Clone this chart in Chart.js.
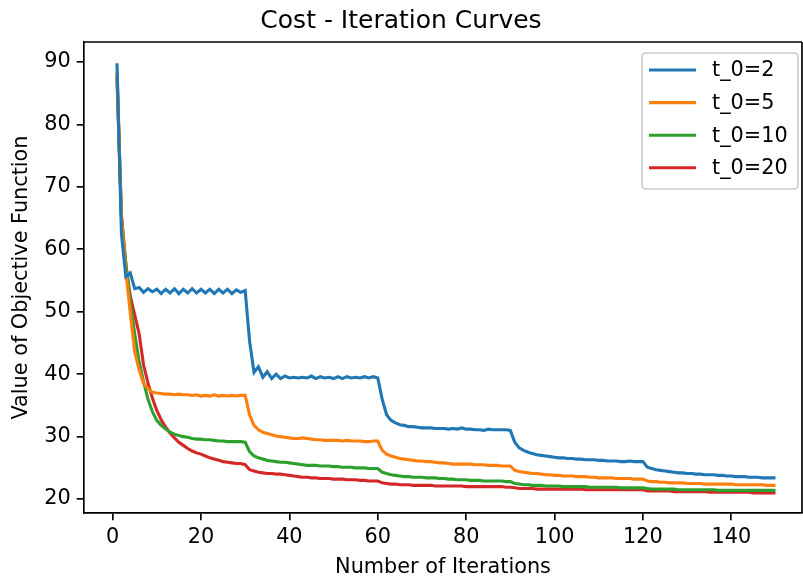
<!DOCTYPE html>
<html>
<head>
<meta charset="utf-8">
<script src="https://cdn.jsdelivr.net/npm/chart.js@4.4.1/dist/chart.umd.min.js"></script>
<style>
  html, body { margin: 0; padding: 0; background: #fff; }
  #wrap { width: 803px; height: 581px; }
</style>
</head>
<body>
<div id="wrap"><canvas id="myChart" width="803" height="581"></canvas></div>
<script>
// iteration numbers 1..150
var iterations = Array.from({length: 150}, function(_, i){ return i + 1; });

var seriesNames = ['t_0=2', 't_0=5', 't_0=10', 't_0=20'];
var seriesColors = ['#1f77b4', '#ff7f0e', '#2ca02c', '#d62728'];

var cost_t2 = [
  89.8, 62.5, 55.6, 56.2, 53.7, 53.9, 53.1, 53.7, 53.2, 53.6,
  52.9, 53.6, 53.0, 53.7, 52.9, 53.6, 53.0, 53.7, 53.0, 53.6,
  53.0, 53.6, 52.9, 53.6, 53.0, 53.6, 52.9, 53.5, 53.1, 53.4,
  45.3, 40.3, 41.2, 39.5, 40.4, 39.3, 40.0, 39.3, 39.7, 39.4,
  39.5, 39.4, 39.5, 39.4, 39.7, 39.3, 39.6, 39.4, 39.5, 39.3,
  39.6, 39.3, 39.6, 39.4, 39.5, 39.4, 39.6, 39.4, 39.6, 39.4,
  36.0, 33.5, 32.6, 32.2, 31.9, 31.8, 31.6, 31.6, 31.5, 31.4,
  31.4, 31.4, 31.3, 31.3, 31.3, 31.2, 31.3, 31.2, 31.4, 31.2,
  31.2, 31.1, 31.1, 31.0, 31.2, 31.1, 31.1, 31.1, 31.1, 31.0,
  29.1, 28.2, 27.8, 27.5, 27.3, 27.1, 27.0, 26.9, 26.8, 26.7,
  26.6, 26.6, 26.5, 26.5, 26.4, 26.4, 26.3, 26.3, 26.3, 26.2,
  26.2, 26.1, 26.1, 26.1, 26.0, 26.0, 26.1, 26.0, 26.0, 26.0,
  25.1, 24.9, 24.7, 24.6, 24.5, 24.4, 24.3, 24.2, 24.2, 24.1,
  24.1, 24.0, 24.0, 23.9, 23.9, 23.9, 23.8, 23.8, 23.7, 23.7,
  23.6, 23.6, 23.6, 23.5, 23.5, 23.5, 23.4, 23.4, 23.4, 23.4
];

var cost_t5 = [
  88.5, 65.0, 56.5, 49.8, 43.6, 40.7, 38.5, 37.7, 37.1, 37.0,
  36.9, 36.8, 36.8, 36.7, 36.8, 36.7, 36.7, 36.6, 36.7, 36.5,
  36.6, 36.5, 36.7, 36.5, 36.6, 36.5, 36.6, 36.5, 36.6, 36.6,
  33.5, 31.8, 31.1, 30.7, 30.5, 30.3, 30.1, 30.0, 29.9, 29.8,
  29.7, 29.7, 29.8, 29.7, 29.6, 29.5, 29.5, 29.4, 29.4, 29.4,
  29.4, 29.3, 29.4, 29.3, 29.3, 29.3, 29.2, 29.2, 29.3, 29.3,
  27.8, 27.2, 26.9, 26.7, 26.5, 26.4, 26.3, 26.2, 26.1, 26.1,
  26.0, 26.0, 25.9, 25.8, 25.8, 25.7, 25.6, 25.6, 25.6, 25.6,
  25.6, 25.5, 25.5, 25.5, 25.4, 25.4, 25.4, 25.3, 25.3, 25.3,
  24.6, 24.4, 24.3, 24.2, 24.1, 24.1, 24.0, 23.9, 23.9, 23.8,
  23.8, 23.7, 23.7, 23.7, 23.6, 23.6, 23.6, 23.5, 23.5, 23.4,
  23.4, 23.4, 23.4, 23.3, 23.3, 23.3, 23.3, 23.2, 23.2, 23.2,
  22.9, 22.8, 22.8, 22.7, 22.7, 22.6, 22.6, 22.6, 22.6, 22.5,
  22.5, 22.5, 22.5, 22.4, 22.4, 22.4, 22.4, 22.4, 22.4, 22.4,
  22.3, 22.3, 22.3, 22.3, 22.3, 22.3, 22.3, 22.2, 22.2, 22.2
];

var cost_t10 = [
  87.8, 65.2, 57.8, 51.5, 46.5, 42.0, 38.8, 36.0, 34.0, 32.6,
  31.8, 31.2, 30.7, 30.4, 30.2, 30.0, 29.9, 29.7, 29.6, 29.6,
  29.5, 29.5, 29.4, 29.3, 29.3, 29.2, 29.2, 29.2, 29.2, 29.1,
  27.6, 26.9, 26.6, 26.4, 26.2, 26.1, 26.0, 25.9, 25.9, 25.8,
  25.7, 25.6, 25.5, 25.4, 25.4, 25.4, 25.3, 25.3, 25.3, 25.2,
  25.2, 25.1, 25.1, 25.1, 25.0, 25.0, 25.0, 24.9, 24.9, 24.9,
  24.3, 24.1, 23.9, 23.8, 23.7, 23.6, 23.6, 23.5, 23.5, 23.5,
  23.4, 23.4, 23.4, 23.3, 23.3, 23.2, 23.2, 23.1, 23.1, 23.1,
  23.0, 23.0, 23.0, 22.9, 22.9, 22.9, 22.9, 22.9, 22.8, 22.8,
  22.5, 22.4, 22.3, 22.3, 22.2, 22.2, 22.2, 22.1, 22.1, 22.1,
  22.1, 22.0, 22.0, 22.0, 22.0, 22.0, 22.0, 21.9, 21.9, 21.9,
  21.9, 21.9, 21.9, 21.9, 21.8, 21.8, 21.8, 21.8, 21.8, 21.8,
  21.7, 21.6, 21.6, 21.6, 21.6, 21.6, 21.6, 21.5, 21.5, 21.5,
  21.5, 21.5, 21.5, 21.5, 21.5, 21.5, 21.4, 21.4, 21.4, 21.4,
  21.4, 21.4, 21.4, 21.4, 21.4, 21.4, 21.4, 21.4, 21.4, 21.4
];

var cost_t20 = [
  87.3, 65.5, 57.5, 52.5, 49.5, 46.5, 41.5, 38.6, 36.2, 34.2,
  32.7, 31.5, 30.6, 29.8, 29.1, 28.6, 28.1, 27.7, 27.4, 27.2,
  26.9, 26.6, 26.4, 26.2, 26.0, 25.9, 25.8, 25.7, 25.7, 25.5,
  24.7, 24.5, 24.3, 24.2, 24.1, 24.1, 24.0, 24.0, 23.9, 23.8,
  23.7, 23.6, 23.5, 23.5, 23.4, 23.4, 23.3, 23.3, 23.3, 23.2,
  23.2, 23.2, 23.1, 23.1, 23.1, 23.0, 23.0, 22.9, 22.9, 22.9,
  22.6, 22.5, 22.4, 22.4, 22.3, 22.3, 22.3, 22.2, 22.2, 22.2,
  22.2, 22.2, 22.1, 22.1, 22.1, 22.1, 22.1, 22.1, 22.1, 22.0,
  22.0, 22.0, 22.0, 22.0, 22.0, 22.0, 22.0, 22.0, 21.9, 21.9,
  21.8, 21.7, 21.7, 21.7, 21.7, 21.6, 21.6, 21.6, 21.6, 21.6,
  21.6, 21.6, 21.6, 21.6, 21.6, 21.6, 21.5, 21.5, 21.5, 21.5,
  21.5, 21.5, 21.5, 21.5, 21.5, 21.5, 21.5, 21.5, 21.5, 21.5,
  21.3, 21.3, 21.3, 21.3, 21.3, 21.3, 21.2, 21.2, 21.2, 21.2,
  21.2, 21.2, 21.2, 21.2, 21.1, 21.1, 21.1, 21.1, 21.1, 21.1,
  21.1, 21.1, 21.1, 21.1, 21.0, 21.0, 21.0, 21.0, 21.0, 21.0
];

var xTicks = [0, 20, 40, 60, 80, 100, 120, 140];
var yTicks = [20, 30, 40, 50, 60, 70, 80, 90];

var FONT = 'DejaVu Sans';
var allSeries = [cost_t2, cost_t5, cost_t10, cost_t20];

var datasets = allSeries.map(function(vals, k){
  return {
    label: seriesNames[k],
    data: iterations.map(function(it, i){ return {x: it, y: vals[i]}; }),
    borderColor: seriesColors[k],
    backgroundColor: seriesColors[k],
    borderWidth: 3.1,
    pointRadius: 0,
    tension: 0,
    fill: false
  };
});

// top/right spines + matplotlib style legend
var framePlugin = {
  id: 'frame',
  afterDraw: function(chart){
    var c = chart.ctx, a = chart.chartArea;
    c.save();
    c.strokeStyle = '#000';
    c.lineWidth = 1.67;
    c.beginPath();
    c.moveTo(a.left, a.top); c.lineTo(a.right, a.top);
    c.moveTo(a.right, a.top); c.lineTo(a.right, a.bottom);
    c.stroke();

    // legend box
    var bx = 642, by = 53, bw = 156, bh = 136, r = 4;
    c.beginPath();
    c.moveTo(bx + r, by);
    c.arcTo(bx + bw, by, bx + bw, by + bh, r);
    c.arcTo(bx + bw, by + bh, bx, by + bh, r);
    c.arcTo(bx, by + bh, bx, by, r);
    c.arcTo(bx, by, bx + bw, by, r);
    c.closePath();
    c.fillStyle = 'rgba(255,255,255,0.8)';
    c.fill();
    c.strokeStyle = '#cccccc';
    c.lineWidth = 1.67;
    c.stroke();

    c.font = '20.8px "' + FONT + '"';
    c.textBaseline = 'middle';
    c.textAlign = 'left';
    chart.data.datasets.forEach(function(ds, k){
      var y = 70 + k * 32.6;
      c.strokeStyle = ds.borderColor;
      c.lineWidth = 3.1;
      c.beginPath();
      c.moveTo(649, y); c.lineTo(696, y);
      c.stroke();
      c.fillStyle = '#000';
      c.fillText(ds.label, 712, y + 1);
    });
    c.restore();
  }
};

var ctx = document.getElementById('myChart');
var grafica = new Chart(ctx, {
  type: 'line',
  data: { datasets: datasets },
  options: {
    responsive: false,
    animation: false,
    layout: { padding: { top: 0, right: 1, left: 0, bottom: 0 } },
    plugins: {
      legend: { display: false },
      tooltip: { enabled: false },
      title: {
        display: true,
        text: 'Cost - Iteration Curves',
        color: '#000',
        font: { family: FONT, size: 25, weight: 'normal' },
        padding: { top: 6, bottom: 6 }
      }
    },
    scales: {
      x: {
        type: 'linear',
        min: -6.47,
        max: 156.0,
        afterBuildTicks: function(s){ s.ticks = xTicks.map(function(v){ return {value: v}; }); },
        afterFit: function(s){ s.height = 68; },
        grid: { display: true, drawOnChartArea: false, drawTicks: true, tickLength: 7.3, color: '#000', lineWidth: 1.67 },
        border: { display: true, color: '#000', width: 1.67 },
        ticks: { color: '#000', padding: 5, maxRotation: 0, font: { family: FONT, size: 20.8 } },
        title: { display: true, text: 'Number of Iterations', color: '#000', font: { family: FONT, size: 20.8 }, padding: { top: 0, bottom: 1 } }
      },
      y: {
        type: 'linear',
        min: 17.77,
        max: 93.2,
        afterBuildTicks: function(s){ s.ticks = yTicks.map(function(v){ return {value: v}; }); },
        afterFit: function(s){ s.width = 84; },
        grid: { display: true, drawOnChartArea: false, drawTicks: true, tickLength: 7.3, color: '#000', lineWidth: 1.67 },
        border: { display: true, color: '#000', width: 1.67 },
        ticks: { color: '#000', padding: 6, font: { family: FONT, size: 20.8 } },
        title: { display: true, text: 'Value of Objective Function', color: '#000', font: { family: FONT, size: 20.8 }, padding: { top: 9, bottom: 0 } }
      }
    }
  },
  plugins: [framePlugin]
});
</script>
</body>
</html>
